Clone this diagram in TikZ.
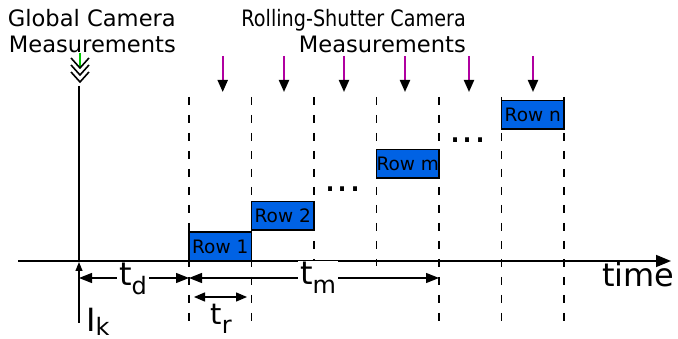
\documentclass[tikz,border=0pt]{standalone}
\usepackage{fontspec}
\setmainfont{DejaVu Sans}
\usetikzlibrary{arrows.meta}
\definecolor{rowblue}{RGB}{0,98,228}
\definecolor{measmag}{RGB}{176,0,160}
\definecolor{trigreen}{RGB}{0,200,0}
\newcommand\bigsub[3][9pt]{#2\raisebox{-#1}{\fontsize{24}{24}\selectfont #3}}
\begin{document}
\begin{tikzpicture}[x=1pt,y=-1pt,
  rowbox/.style={draw=black, fill=rowblue, line width=1.5pt, minimum width=62.5pt, minimum height=28.5pt, inner sep=0pt, font=\fontsize{18.5}{18.5}\selectfont},
  guide/.style={line width=1.3pt, dash pattern=on 8.5pt off 9.5pt},
  meas/.style={draw=measmag, line width=2pt, -{Triangle[length=12pt,width=10pt,color=black]}},
  dim/.style={line width=1.3pt, {Triangle[length=13pt,width=10pt]}-{Triangle[length=13pt,width=10pt]}},
  biglabel/.style={fill=white, inner sep=2pt, anchor=base, font=\fontsize{32}{32}\selectfont},
  title/.style={align=right, inner sep=0pt, font=\fontsize{22.6}{26}\selectfont, anchor=base east},
  dots/.style={font=\fontsize{38}{38}\selectfont, anchor=base, inner sep=0pt}
]
\useasboundingbox (0,0) rectangle (678,339);

% titles
\node[title] (gtitle) at (176,53) {Global Camera\\Measurements};
\node[title] (rtitle) at (466,53) {\scalebox{0.85}[1]{Rolling-Shutter Camera}\\Measurements};

% dashed guide lines
\foreach \xx/\ya/\yb in {189/97/330, 251.5/97/330, 314/97/266, 376.5/97/266, 439/97/325, 501.5/97/325, 564/97/325}
  \draw[guide] (\xx,\ya) -- (\xx,\yb);

% time axis
\coordinate (axs) at (18,261);
\coordinate (axe) at (671,261);
\draw[line width=1.5pt, -{Triangle[length=15pt,width=12pt]}] (axs) -- (axe);
\node[anchor=base west, inner sep=0pt, font=\fontsize{32}{32}\selectfont] (time) at (602,287) {time};

% global camera
\coordinate (gtop) at (79,86);
\coordinate (gax) at (79,261);
\coordinate (gbot) at (79,323);
\draw[line width=1.2pt] (gtop) -- (gax);
\draw[line width=1.2pt, -{Triangle[length=9pt,width=7pt]}] (gbot) -- (79,262);
\draw[trigreen, line width=1.5pt] (80,53) -- (80,68);
\foreach \yy in {58,65,72}
  \draw[line width=1.6pt] (71,\yy) -- (80,\yy+10) -- (89,\yy);
\node[anchor=base west, inner sep=0pt] (ik) at (86,331) {\fontsize{32}{32}\selectfont\bigsub[4pt]{I}{k}};

% rows
\node[rowbox] (r1) at (220.25,246.5) {Row 1};
\node[rowbox] (r2) at (282.75,216) {Row 2};
\node[rowbox] (rm) at (407.75,164) {Row m};
\node[rowbox] (rn) at (532.75,115) {Row n};
\node[dots] (d1) at (343,192) {...};
\node[dots] (d2) at (468,143) {...};

% measurement arrows
\foreach \xx [count=\i] in {222.7,284,344,405,469,533}
  \draw[meas] (\xx,56) -- (\xx,92);

% dimensions
\coordinate (tda) at (79,278);
\coordinate (tdb) at (189,278);
\coordinate (tmb) at (439,278);
\draw[dim] (tda) -- (tdb);
\draw[dim] (tdb) -- (tmb);
\node[biglabel] (td) at (133,286) {\bigsub{t}{d}};
\node[biglabel] (tm) at (318,285) {\bigsub{t}{m}};
\coordinate (tra) at (194,297);
\coordinate (trb) at (247,297);
\draw[line width=1.3pt, {Triangle[length=11pt,width=9pt]}-{Triangle[length=11pt,width=9pt]}] (tra) -- (trb);
\node[anchor=base, inner sep=0pt, font=\fontsize{29}{29}\selectfont] (tr) at (221,325) {\bigsub{t}{r}};
\end{tikzpicture}
\end{document}
